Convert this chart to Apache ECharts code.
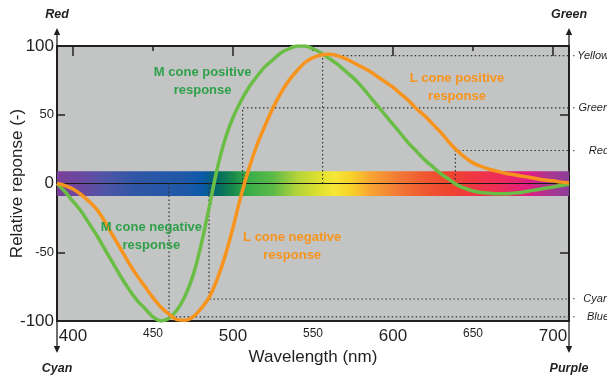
<!DOCTYPE html>
<html>
<head>
<meta charset="utf-8">
<script src="https://cdn.jsdelivr.net/npm/echarts@6/dist/echarts.min.js"></script>
<style>
  html, body { margin: 0; padding: 0; background: #fff; }
  #chart { width: 607px; height: 378px; }
</style>
</head>
<body>
<div id="chart"></div>
<script>
// Wavelength grid (nm) shared by both cone response curves
const wavelength = [
  390, 395, 400, 405, 410, 415, 420, 425, 430, 435, 440, 445, 450, 455, 460, 465,
  470, 475, 480, 485, 490, 495, 500, 505, 510, 515, 520, 525, 530, 535, 540, 545,
  550, 555, 560, 565, 570, 575, 580, 585, 590, 595, 600, 605, 610, 615, 620, 625,
  630, 635, 640, 645, 650, 655, 660, 665, 670, 675, 680, 685, 690, 695, 700, 705, 710
];

// M cone relative response
const mCone = [
  0, -6, -13, -20, -29, -38, -48, -58, -68, -77, -85, -91, -97, -100, -98, -92,
  -82, -67, -45, -18, 10, 32, 48, 60, 70, 78, 85, 90, 95, 98, 100, 100,
  98, 95, 91, 87, 82, 77, 71, 64, 57, 50, 43, 36, 29, 23, 17, 12,
  7, 3, -1, -3.5, -5.5, -6.5, -7, -7.5, -7.5, -7, -6.5, -5.5, -4.5, -3.5, -2.5, -1.5, -0.5
];

// L cone relative response
const lCone = [
  0, -1.5, -4, -8, -13, -19, -28, -38, -48, -58, -67, -75, -83, -90, -95, -99,
  -99.5, -97, -91, -83, -70, -53, -32, -9, 11, 28, 42, 55, 66, 75, 82, 88,
  91.5, 93.5, 94, 93, 91, 88, 85, 82, 78, 74, 70, 65, 60, 54, 49, 43,
  37, 30, 24, 19, 15, 12.5, 10.5, 9, 7.5, 6.5, 5.5, 4.5, 3.5, 2.5, 2, 1, 0.5
];

// Perceived colour guides: wavelength of the reference point and response level
const guideNames = ['Yellow', 'Green', 'Red', 'Cyan', 'Blue'];
const guideWavelength = [556, 506, 639, 485, 460];
const guideLevel = [93, 55, 24, -84, -97];

// Axis ticks
const majorTicks = [400, 500, 600, 700];
const minorTicks = [450, 550, 650];
const yTicks = [-50, 50];

// Visible spectrum strip across the zero line
const spectrumStops = [
  [390, '#7b3f9a'], [405, '#6a48a0'], [420, '#4f55a6'], [440, '#2f56a6'],
  [470, '#1f58a8'], [481, '#0b5aa8'], [487, '#03607c'], [492, '#066f5e'],
  [500, '#17894a'], [510, '#3aae4a'], [525, '#5cba47'], [540, '#b3d33a'],
  [553, '#dcdf2f'], [563, '#f5e834'], [575, '#f8cf2a'], [585, '#f8a733'],
  [603, '#f27a35'], [622, '#ef5530'], [636, '#ee4330'], [650, '#ef3742'],
  [667, '#ee2c5a'], [685, '#e01d84'], [697, '#ae3690'], [710, '#8b3d98']
];
const bandHalfHeight = 9;

const xMin = 390, xMax = 710;
const GREEN = '#6abd45';
const ORANGE = '#f7941d';
const GREEN_TEXT = '#2fa04a';
const INK = '#231f20';
const FONT = 'Liberation Sans';

const chart = echarts.init(document.getElementById('chart'));

function xAxisDef(pos, ticks, len, labels, size) {
  return {
    type: 'value', position: pos, min: xMin, max: xMax,
    axisLine: { show: false },
    splitLine: { show: false },
    axisTick: { show: true, inside: true, length: len, customValues: ticks,
      lineStyle: { color: INK, width: 1.5 } },
    axisLabel: { show: labels, customValues: ticks, fontSize: size, color: INK,
      fontFamily: FONT, margin: 7 }
  };
}

const xAxes = [
  xAxisDef('bottom', majorTicks, 10, true, 17),
  xAxisDef('bottom', minorTicks, 5, true, 12),
  xAxisDef('top', majorTicks, 10, false, 12),
  xAxisDef('top', minorTicks, 5, false, 12)
];
Object.assign(xAxes[0], {
  name: 'Wavelength (nm)', nameLocation: 'middle', nameGap: 28, nameMoveOverlap: false,
  nameTextStyle: { fontSize: 17, color: INK, fontFamily: FONT }
});

const gradient = new echarts.graphic.LinearGradient(0, 0, 1, 0,
  spectrumStops.map(s => ({ offset: (s[0] - xMin) / (xMax - xMin), color: s[1] })));

const guideSeries = guideNames.map((name, i) => ({
  name: name,
  type: 'line',
  z: 3,
  silent: true,
  symbol: 'none',
  lineStyle: { color: '#333', width: 1.2, type: [1.5, 2.5] },
  data: [[guideWavelength[i], 0], [guideWavelength[i], guideLevel[i]], [xMax, guideLevel[i]]],
  endLabel: {
    show: true, distance: 3,
    formatter: '{d|·}{n|' + name + '}',
    rich: {
      d: { fontSize: 11, color: INK, width: 5, fontFamily: FONT },
      n: { fontSize: 11, fontStyle: 'italic', color: INK, width: 32, align: 'right', fontFamily: FONT }
    }
  }
}));

chart.setOption({
  animation: false,
  backgroundColor: '#ffffff',
  grid: {
    left: 57, right: 38, top: 46, bottom: 57,
    containLabel: false, outerBoundsMode: 'none',
    show: true, backgroundColor: '#c3c4c4', borderColor: INK, borderWidth: 2
  },
  xAxis: xAxes,
  yAxis: [
    {
      type: 'value', position: 'left', min: -100, max: 100, interval: 50,
      axisLine: { show: false }, splitLine: { show: false },
      axisTick: { show: true, inside: true, length: 8, customValues: yTicks,
        lineStyle: { color: INK, width: 1.5 } },
      axisLabel: {
        margin: 3, color: INK, fontFamily: FONT,
        formatter: v => (Math.abs(v) === 50 ? '{s|' + v + '}' : '{b|' + v + '}'),
        rich: { s: { fontSize: 13, fontFamily: FONT, color: INK },
                b: { fontSize: 17, fontFamily: FONT, color: INK } }
      },
      name: 'Relative reponse (-)', nameLocation: 'middle', nameGap: 31, nameMoveOverlap: false,
      nameTextStyle: { fontSize: 17, color: INK, fontFamily: FONT }
    },
    {
      type: 'value', position: 'right', min: -100, max: 100, interval: 50,
      axisLine: { show: false }, splitLine: { show: false },
      axisTick: { show: true, inside: true, length: 9, customValues: yTicks,
        lineStyle: { color: INK, width: 1.5 } },
      axisLabel: { show: false }
    }
  ],
  series: [
    {
      name: 'spectrum', type: 'line', z: 1, silent: true, symbol: 'none',
      lineStyle: { color: '#1a1a1a', width: 1.2 },
      data: [[xMin, 0], [xMax, 0]],
      markArea: {
        silent: true,
        itemStyle: { color: gradient },
        data: [[{ coord: [xMin, bandHalfHeight] }, { coord: [xMax, -bandHalfHeight] }]]
      }
    },
    ...guideSeries,
    {
      name: 'M cone', type: 'line', z: 4, symbol: 'none', smooth: 0.35,
      lineStyle: { color: GREEN, width: 3.5 },
      data: wavelength.map((w, i) => [w, mCone[i]])
    },
    {
      name: 'L cone', type: 'line', z: 5, symbol: 'none', smooth: 0.35,
      lineStyle: { color: ORANGE, width: 3.5 },
      data: wavelength.map((w, i) => [w, lCone[i]])
    }
  ]
});

// Curve annotations anchored in data space
const notes = [
  { text: 'M cone positive\nresponse', at: [481, 74], color: GREEN_TEXT },
  { text: 'L cone positive\nresponse', at: [640, 70], color: ORANGE },
  { text: 'M cone negative\nresponse', at: [449, -38.5], color: GREEN_TEXT },
  { text: 'L cone negative\nresponse', at: [537, -45.5], color: ORANGE }
];

const toPx = p => chart.convertToPixel({ xAxisIndex: 0, yAxisIndex: 0 }, p);
const [L, T] = toPx([xMin, 100]);
const [R, B] = toPx([xMax, -100]);

function arrow(x, y0, dir) {
  // dir: -1 up, +1 down
  const stem = dir < 0 ? 11 : 25;
  const head = 7;
  return [
    { type: 'line', silent: true, z: 10,
      shape: { x1: x, y1: y0, x2: x, y2: y0 + dir * stem },
      style: { stroke: INK, lineWidth: 1.3 } },
    { type: 'polygon', silent: true, z: 10,
      shape: { points: [[x - 3.2, y0 + dir * stem], [x + 3.2, y0 + dir * stem], [x, y0 + dir * (stem + head)]] },
      style: { fill: INK } }
  ];
}

function cornerText(text, x, y) {
  return { type: 'text', silent: true, z: 10, x: x, y: y,
    style: { text: text, fill: INK, font: 'italic bold 12.5px "Liberation Sans"',
      align: 'center', verticalAlign: 'middle' } };
}

const graphics = [
  ...arrow(L, T, -1), ...arrow(R, T, -1), ...arrow(L, B, 1), ...arrow(R, B, 1),
  cornerText('Red', L, 15), cornerText('Green', R, 15),
  cornerText('Cyan', L, 369), cornerText('Purple', R, 369),
  ...notes.map(n => {
    const [px, py] = toPx(n.at);
    return { type: 'text', silent: true, z: 10, x: px, y: py,
      style: { text: n.text, fill: n.color, font: 'bold 13px "Liberation Sans"',
        align: 'center', verticalAlign: 'middle', lineHeight: 18 } };
  })
];

chart.setOption({ graphic: graphics });
</script>
</body>
</html>
